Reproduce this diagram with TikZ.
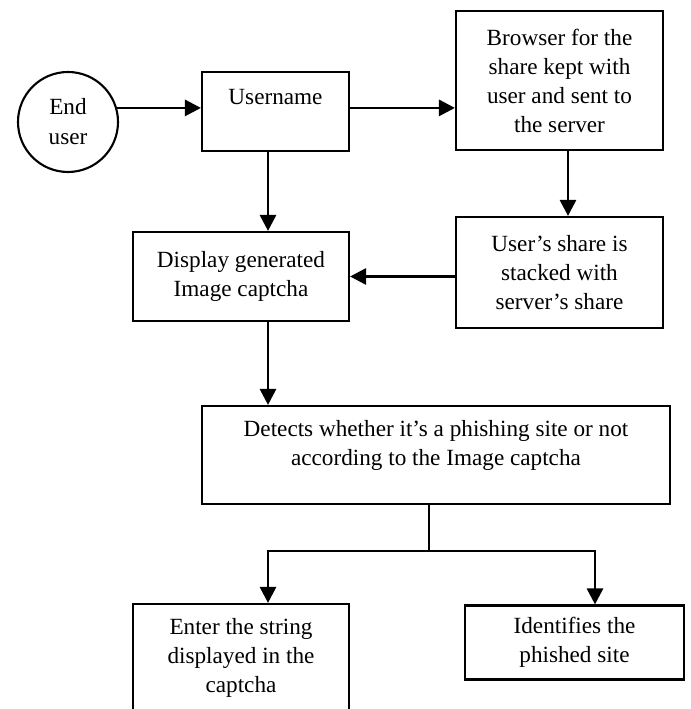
\documentclass[tikz,border=0pt]{standalone}
\usepackage{fontspec}
\setmainfont{Liberation Serif}
\usepackage{tikz}
\usetikzlibrary{positioning,calc}
\usetikzlibrary{arrows.meta}
\tikzset{
  box/.style={rectangle,draw=black,line width=1.2pt,align=center,inner sep=0pt,
    font=\fontsize{13.2}{16.5}\selectfont},
  user/.style={circle,draw=black,line width=1.2pt,align=center,inner sep=0pt,
    minimum size=2cm,font=\fontsize{13.2}{17}\selectfont},
}
\tikzset{arr/.style={draw=black,line width=1.6pt,-{Triangle[length=0.32cm,width=0.32cm]}}, link/.style={draw=black,line width=1.2pt}}

\begin{document}
\begin{tikzpicture}[scale=1]
\useasboundingbox (0,0) rectangle (13.8,14.18);
\clip (0,0) rectangle (13.8,14.18);
\node[user] (enduser) at (1.36,11.74) {End\\user};
\node[box,minimum width=2.94cm,minimum height=1.58cm,text depth=0.58cm] (uname) at (5.51,11.95) {Username};
\node[box,minimum width=4.14cm,minimum height=2.78cm] (browser) at (11.19,12.57) {Browser for the\\share kept with\\user and sent to\\the server};
\node[box,minimum width=4.32cm,minimum height=1.78cm] (display) at (4.82,8.65) {Display generated\\Image captcha};
\node[box,minimum width=4.14cm,minimum height=2.22cm] (share) at (11.19,8.73) {User’s share is\\stacked with\\server’s share};
\node[box,minimum width=9.36cm,minimum height=1.96cm,text depth=0.5cm] (detects) at (8.72,5.08) {Detects whether it’s a phishing site or not\\according to the Image captcha};
\node[box,minimum width=4.32cm,minimum height=2.14cm] (enter) at (4.82,1.03) {Enter the string\\displayed in the\\captcha};
\node[box,minimum width=4.38cm,minimum height=1.48cm] (ident) at (11.49,1.33) {Identifies the\\phished site};
\coordinate (split) at (8.58,3.16);
\draw[arr] (enduser.16) -- (enduser.16 -| uname.west);
\draw[arr] (enduser.16 -| uname.east) -- (enduser.16 -| browser.west);
\draw[arr] ([xshift=-0.15cm]uname.south) -- ([xshift=-0.15cm]uname.south |- display.north);
\draw[arr] ([xshift=0.17cm]browser.south) -- ([xshift=0.17cm]browser.south |- share.north);
\draw[arr] (display.east -| share.west) -- (display.east);
\draw[arr] ([xshift=0.54cm]display.south) -- ([xshift=0.54cm]display.south |- detects.north);
\draw[link] (detects.south -| split) -- (split);
\draw[arr] (split) -| ([xshift=0.54cm]enter.north);
\draw[arr] (split) -| ([xshift=0.41cm]ident.north);
\end{tikzpicture}
\end{document}
